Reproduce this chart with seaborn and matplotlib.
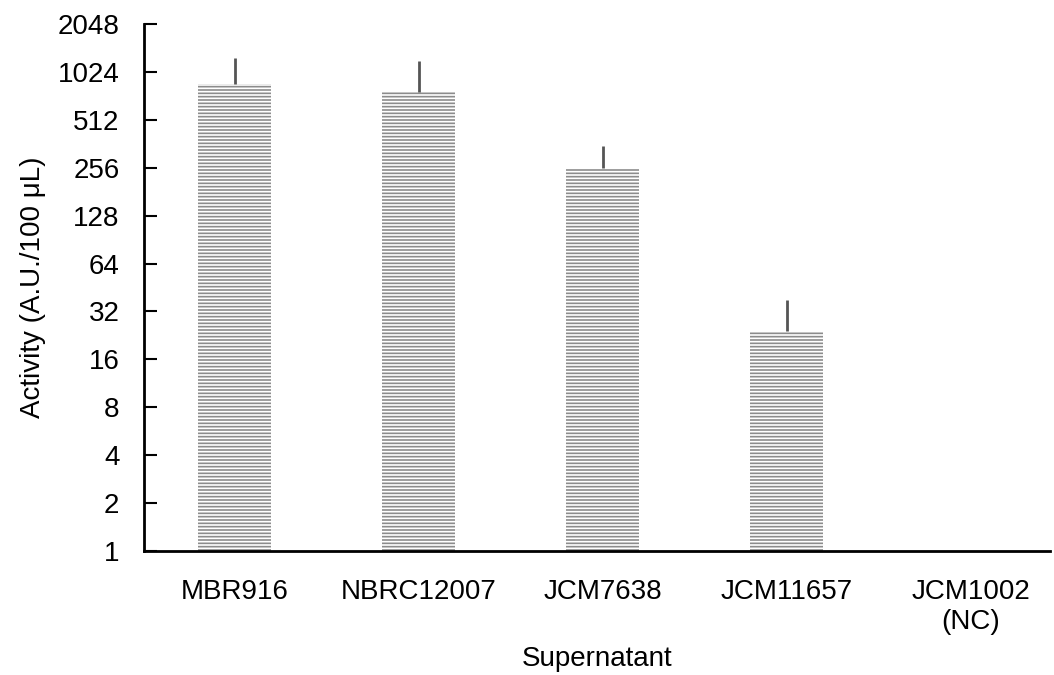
import numpy as np
import pandas as pd
import seaborn as sns
import matplotlib.pyplot as plt

categories = ["MBR916", "NBRC12007", "JCM7638", "JCM11657", "JCM1002\n(NC)"]
activity = [860, 770, 256, 24, np.nan]
err_upper = [1250, 1210, 350, 38, np.nan]
yticks = [1, 2, 4, 8, 16, 32, 64, 128, 256, 512, 1024, 2048]

df = pd.DataFrame({"Supernatant": categories, "Activity": activity})

sns.set_style("ticks")
plt.rcParams["font.family"] = ["Liberation Sans", "DejaVu Sans"]
plt.rcParams["hatch.color"] = "#333333"
plt.rcParams["hatch.linewidth"] = 1.2
plt.rcParams["text.color"] = "black"
plt.rcParams["axes.labelcolor"] = "black"

fig = plt.figure(figsize=(10.54, 6.75), dpi=100)
ax = fig.add_axes([0.137, 0.184, 0.859, 0.780])

sns.barplot(data=df, x="Supernatant", y="Activity", color="#8c8c8c",
            width=0.4, saturation=1, ax=ax, errorbar=None, linewidth=0)
for bar in ax.patches:
    bar.set_hatch("-----")

ax.set_yscale("log", base=2)
ax.set_ylim(1, 2048)
ax.set_yticks(yticks)
ax.set_yticklabels([str(t) for t in yticks])
ax.minorticks_off()

# only the upper half of the error bar is drawn
x = np.arange(len(categories))
up = np.array(err_upper) - np.array(activity)
ax.errorbar(x, activity, yerr=[np.zeros(len(x)), up], fmt="none",
            ecolor="#555555", elinewidth=2, capsize=0)

ax.set_xlim(-0.49, 4.43)
ax.tick_params(axis="y", direction="in", length=9, width=1.5, labelsize=20,
               pad=18, colors="black")
ax.tick_params(axis="x", length=0, labelsize=20, pad=20, colors="black")
for s in ["left", "bottom"]:
    ax.spines[s].set_linewidth(2)
    ax.spines[s].set_color("black")
sns.despine(ax=ax)

ax.set_xlabel("Supernatant", fontsize=20, labelpad=8)
ax.set_ylabel("Activity (A.U./100 μL)", fontsize=20, labelpad=8)

fig.savefig("out.png", dpi=100)
